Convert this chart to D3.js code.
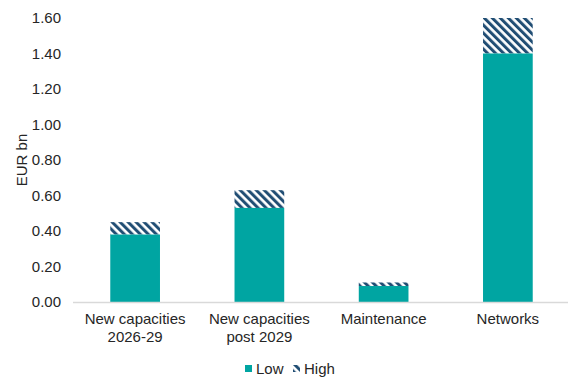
<!DOCTYPE html>
<html>
<head>
<meta charset="utf-8">
<script src="https://cdn.jsdelivr.net/npm/d3@7"></script>
<style>
  html, body { margin: 0; padding: 0; background: #fff; }
  svg text { font-family: "Liberation Sans", Arial, sans-serif; fill: #262626; }
</style>
</head>
<body>
<svg id="chart" width="568" height="380"></svg>
<script>
// Investment needs, EUR bn: low estimate plus the extra amount in the high case
const categories = [["New capacities", "2026-29"], ["New capacities", "post 2029"], ["Maintenance"], ["Networks"]];
const lowValues = [0.38, 0.53, 0.09, 1.40];
const highValues = [0.45, 0.63, 0.11, 1.60];
const yTicks = [0, 0.2, 0.4, 0.6, 0.8, 1.0, 1.2, 1.4, 1.6];
const seriesNames = ["Low", "High"];

const teal = "#00a5a2";
const navy = "#214e74";

const svg = d3.select("#chart");
const margin = { left: 73, right: -2, top: 18, bottom: 78 };
const W = 568, H = 380;

const x = d3.scaleBand()
  .domain(d3.range(categories.length))
  .range([margin.left, W - margin.right])
  .paddingInner(0.6)
  .paddingOuter(0.3);

const y = d3.scaleLinear()
  .domain([0, 1.6])
  .range([H - margin.bottom, margin.top]);

// diagonal hatch for the high-case increment
const defs = svg.append("defs");
const pat = defs.append("pattern")
  .attr("id", "hatch")
  .attr("patternUnits", "userSpaceOnUse")
  .attr("width", 5.66)
  .attr("height", 5.66)
  .attr("patternTransform", "rotate(-45)");
pat.append("rect").attr("width", 5.66).attr("height", 5.66).attr("fill", "#fff");
pat.append("rect").attr("width", 3).attr("height", 5.66).attr("fill", navy);

// y axis labels (no axis line)
const yAxis = d3.axisLeft(y).tickValues(yTicks).tickFormat(d3.format(".2f")).tickSize(0).tickPadding(12);
const gy = svg.append("g").attr("transform", `translate(${margin.left},0)`).call(yAxis);
gy.select(".domain").remove();
gy.selectAll("text").attr("font-size", 15).style("font-family", "Liberation Sans, Arial, sans-serif").attr("fill", "#262626");

// axis title
svg.append("text")
  .attr("transform", `translate(21,${y(0.8)}) rotate(-90)`)
  .attr("text-anchor", "middle")
  .attr("dominant-baseline", "central")
  .attr("font-size", 15)
  .text("EUR bn");

// bars
const g = svg.append("g");
categories.forEach((c, i) => {
  g.append("rect")
    .attr("x", x(i)).attr("width", x.bandwidth())
    .attr("y", y(highValues[i])).attr("height", y(lowValues[i]) - y(highValues[i]))
    .attr("fill", "url(#hatch)");
  g.append("rect")
    .attr("x", x(i)).attr("width", x.bandwidth())
    .attr("y", y(lowValues[i])).attr("height", y(0) - y(lowValues[i]))
    .attr("fill", teal);
});

// x axis baseline
svg.append("line")
  .attr("x1", margin.left).attr("x2", W - margin.right)
  .attr("y1", y(0) + 0.5).attr("y2", y(0) + 0.5)
  .attr("stroke", "#d9d9d9").attr("stroke-width", 1.5);

// category labels
categories.forEach((lines, i) => {
  const t = svg.append("text")
    .attr("text-anchor", "middle")
    .attr("font-size", 15)
    .attr("x", x(i) + x.bandwidth() / 2)
    .attr("y", 324);
  lines.forEach((ln, k) => {
    t.append("tspan").attr("x", x(i) + x.bandwidth() / 2).attr("dy", k === 0 ? 0 : 18).text(ln);
  });
});

// legend
const leg = svg.append("g");
leg.append("rect").attr("x", 245).attr("y", 365).attr("width", 7).attr("height", 7).attr("fill", teal);
leg.append("text").attr("x", 256).attr("y", 374).attr("font-size", 15).text(seriesNames[0]);
leg.append("rect").attr("x", 293).attr("y", 365).attr("width", 7).attr("height", 7).attr("fill", "url(#hatch)");
leg.append("text").attr("x", 304).attr("y", 374).attr("font-size", 15).text(seriesNames[1]);
</script>
</body>
</html>
